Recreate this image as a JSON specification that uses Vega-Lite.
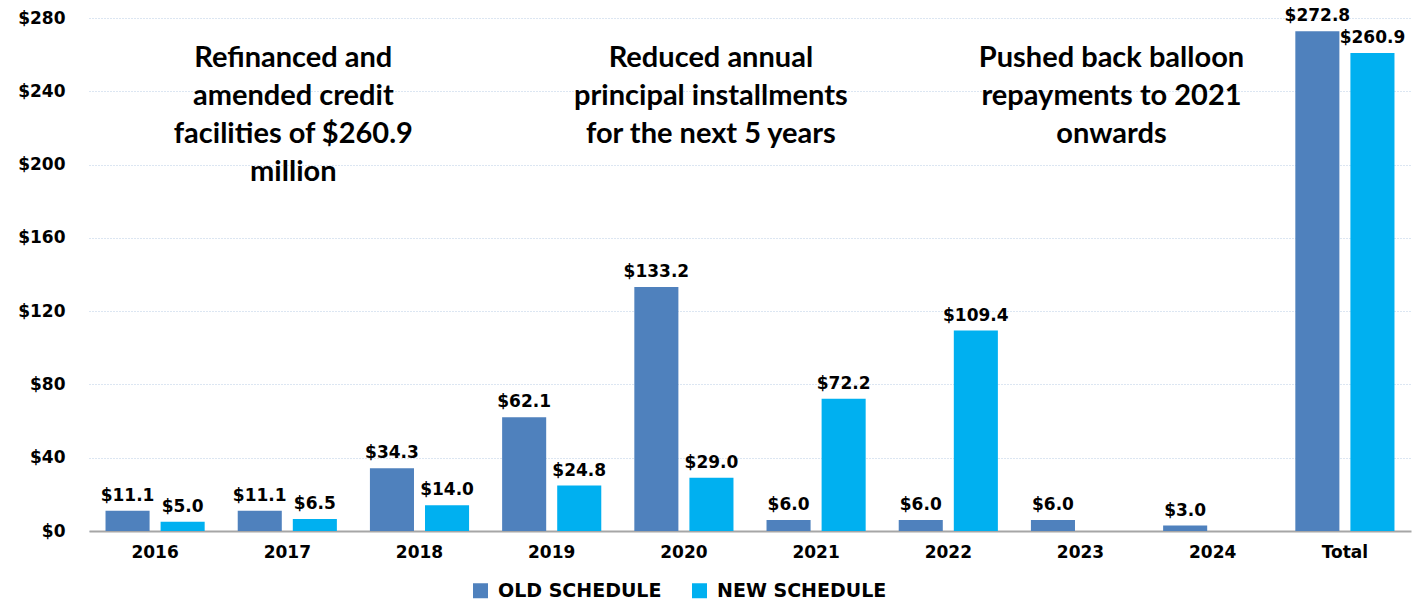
{
  "$schema": "https://vega.github.io/schema/vega-lite/v6.json",
  "width": 1322,
  "height": 513,
  "autosize": {"type": "none"},
  "padding": {"left": 89, "top": 18, "right": 5, "bottom": 69},
  "background": "white",
  "config": {
    "view": {"stroke": null},
    "font": "DejaVu Sans"
  },
  "datasets": {
    "bars": [
      {"year": "2016", "schedule": "OLD SCHEDULE", "value": 11.1},
      {"year": "2016", "schedule": "NEW SCHEDULE", "value": 5.0},
      {"year": "2017", "schedule": "OLD SCHEDULE", "value": 11.1},
      {"year": "2017", "schedule": "NEW SCHEDULE", "value": 6.5},
      {"year": "2018", "schedule": "OLD SCHEDULE", "value": 34.3},
      {"year": "2018", "schedule": "NEW SCHEDULE", "value": 14.0},
      {"year": "2019", "schedule": "OLD SCHEDULE", "value": 62.1},
      {"year": "2019", "schedule": "NEW SCHEDULE", "value": 24.8},
      {"year": "2020", "schedule": "OLD SCHEDULE", "value": 133.2},
      {"year": "2020", "schedule": "NEW SCHEDULE", "value": 29.0},
      {"year": "2021", "schedule": "OLD SCHEDULE", "value": 6.0},
      {"year": "2021", "schedule": "NEW SCHEDULE", "value": 72.2},
      {"year": "2022", "schedule": "OLD SCHEDULE", "value": 6.0},
      {"year": "2022", "schedule": "NEW SCHEDULE", "value": 109.4},
      {"year": "2023", "schedule": "OLD SCHEDULE", "value": 6.0},
      {"year": "2024", "schedule": "OLD SCHEDULE", "value": 3.0},
      {"year": "Total", "schedule": "OLD SCHEDULE", "value": 272.8},
      {"year": "Total", "schedule": "NEW SCHEDULE", "value": 260.9}
    ],
    "notes": [
      {"year": "2017", "value": 258, "text": ["Refinanced and", "amended credit", "facilities of $260.9", "million"]},
      {"year": "2020", "value": 258, "text": ["Reduced annual", "principal installments", "for the next 5 years"]},
      {"year": "2023", "value": 258, "text": ["Pushed back balloon", "repayments to 2021", "onwards"]}
    ]
  },
  "encoding": {
    "x": {
      "field": "year",
      "type": "nominal",
      "sort": ["2016","2017","2018","2019","2020","2021","2022","2023","2024","Total"],
      "scale": {"domain": ["2016","2017","2018","2019","2020","2021","2022","2023","2024","Total"], "paddingInner": 0.25, "paddingOuter": 0.125},
      "axis": {
        "title": null,
        "labelAngle": 0,
        "labelFont": "DejaVu Sans",
        "labelFontWeight": "bold",
        "labelFontSize": 17,
        "labelColor": "#000000",
        "labelPadding": 13,
        "ticks": false,
        "domainColor": "#A6A6A6",
        "domainWidth": 2,
        "grid": false
      }
    },
    "y": {
      "field": "value",
      "type": "quantitative",
      "scale": {"domain": [0, 280], "nice": false},
      "axis": {
        "title": null,
        "values": [0, 40, 80, 120, 160, 200, 240, 280],
        "format": "$.0f",
        "labelFont": "DejaVu Sans",
        "labelFontWeight": "bold",
        "labelFontSize": 17,
        "labelColor": "#000000",
        "labelPadding": 24,
        "ticks": false,
        "domain": false,
        "grid": true,
        "gridColor": "#B8CCE4",
        "gridDash": [1, 2],
        "gridWidth": 1
      }
    }
  },
  "layer": [
    {
      "data": {"name": "bars"},
      "mark": {"type": "bar"},
      "encoding": {
        "xOffset": {
          "field": "schedule",
          "type": "nominal",
          "sort": ["OLD SCHEDULE", "NEW SCHEDULE"],
          "scale": {"domain": ["OLD SCHEDULE", "NEW SCHEDULE"], "paddingInner": 0.2, "paddingOuter": 0}
        },
        "color": {
          "field": "schedule",
          "type": "nominal",
          "scale": {"domain": ["OLD SCHEDULE", "NEW SCHEDULE"], "range": ["#4F81BD", "#00B0F0"]},
          "legend": {
            "title": null,
            "orient": "none",
            "direction": "horizontal",
            "legendX": 382,
            "legendY": 563,
            "symbolType": "square",
            "symbolSize": 225,
            "symbolStrokeWidth": 0,
            "labelFont": "DejaVu Sans",
            "labelFontWeight": "bold",
            "labelFontSize": 19,
            "labelColor": "#000000",
            "labelLimit": 400,
            "columnPadding": 28,
            "labelOffset": 8
          }
        }
      }
    },
    {
      "data": {"name": "bars"},
      "mark": {"type": "text", "baseline": "bottom", "dy": -6, "font": "DejaVu Sans", "fontWeight": "bold", "fontSize": 17, "color": "#000000"},
      "encoding": {
        "xOffset": {
          "field": "schedule",
          "type": "nominal",
          "sort": ["OLD SCHEDULE", "NEW SCHEDULE"],
          "scale": {"domain": ["OLD SCHEDULE", "NEW SCHEDULE"], "paddingInner": 0.2, "paddingOuter": 0}
        },
        "text": {"field": "value", "type": "quantitative", "format": "$.1f"}
      }
    },
    {
      "data": {"name": "notes"},
      "transform": [{"filter": "datum.year == '2017'"}],
      "mark": {"type": "text", "baseline": "middle", "align": "center", "dx": 6, "font": "Lato", "fontWeight": "bold", "fontSize": 29, "lineHeight": 38, "color": "#000000"},
      "encoding": {"text": {"field": "text"}}
    },
    {
      "data": {"name": "notes"},
      "transform": [{"filter": "datum.year == '2020'"}],
      "mark": {"type": "text", "baseline": "middle", "align": "center", "dx": 27, "font": "Lato", "fontWeight": "bold", "fontSize": 29, "lineHeight": 38, "color": "#000000"},
      "encoding": {"text": {"field": "text"}}
    },
    {
      "data": {"name": "notes"},
      "transform": [{"filter": "datum.year == '2023'"}],
      "mark": {"type": "text", "baseline": "middle", "align": "center", "dx": 31, "font": "Lato", "fontWeight": "bold", "fontSize": 29, "lineHeight": 38, "color": "#000000"},
      "encoding": {"text": {"field": "text"}}
    }
  ]
}
